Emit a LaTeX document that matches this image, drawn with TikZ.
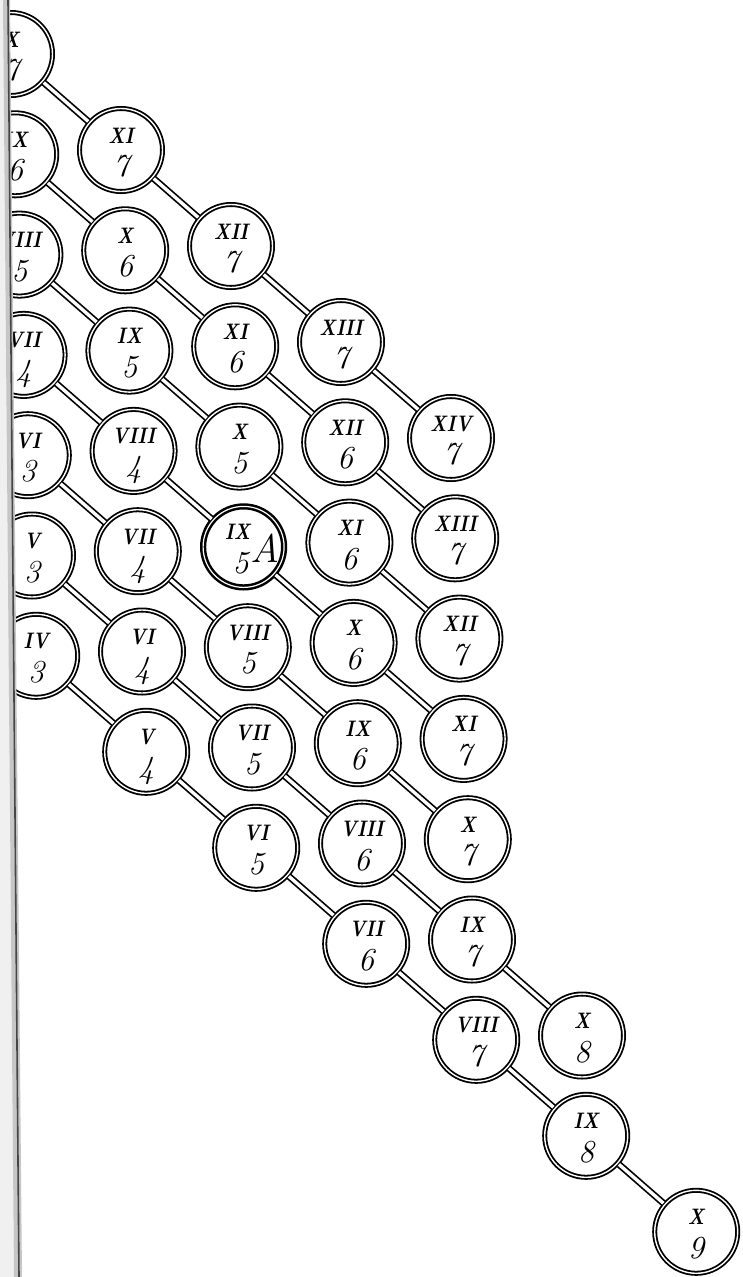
\documentclass[tikz,border=0pt]{standalone}
\usetikzlibrary{calc}
\tikzset{
  cellc/.style={circle, draw=black, double=white, line width=1.8pt, double distance=1.4pt,
    minimum size=83pt, inner sep=0pt, outer sep=0pt, fill=white},
  cellthick/.style={cellc, line width=2.5pt, double distance=1.2pt, minimum size=81pt},
  link/.style={draw=black, double=white, line width=1.7pt, double distance=3.4pt,
    shorten <=2pt, shorten >=2pt},
}
\newcommand{\rmn}[1]{\scalebox{0.95}[1.12]{\fontsize{20}{20}\selectfont\bfseries\itshape #1}}
\newcommand{\dgt}[1]{{\fontsize{32}{32}\selectfont\itshape #1}}
\newcommand{\cellt}[2]{\makebox[0pt]{\raisebox{7pt}[0pt][0pt]{\rmn{#1}}}\makebox[0pt]{\raisebox{-26.5pt}[0pt][0pt]{\dgt{#2}}}}
\newcommand{\cellA}{\makebox[0pt]{\hspace*{-12pt}\raisebox{7pt}[0pt][0pt]{\rmn{IX}}}\makebox[0pt]{\hspace*{-6pt}\raisebox{-26.5pt}[0pt][0pt]{\dgt{5}}}\makebox[0pt]{\hspace*{42pt}\raisebox{-16pt}[0pt][0pt]{{\fontsize{40}{40}\selectfont\itshape A}}}}
\begin{document}
\begin{tikzpicture}[x=1pt,y=-1pt]
\useasboundingbox (0,0) rectangle (742,1277);
\fill[white] (0,0) rectangle (742,1277);
\clip (0,0) rectangle (742,1277);
% cells: column/row/roman/digit
\foreach \c/\r/\R/\D in {
  0/0/X/7, 1/0/XI/7, 2/0/XII/7, 3/0/XIII/7, 4/0/XIV/7,
  0/1/IX/6, 1/1/X/6, 2/1/XI/6, 3/1/XII/6, 4/1/XIII/7,
  0/2/VIII/5, 1/2/IX/5, 2/2/X/5, 3/2/XI/6, 4/2/XII/7,
  0/3/VII/4, 1/3/VIII/4, 3/3/X/6, 4/3/XI/7,
  0/4/VI/3, 1/4/VII/4, 2/4/VIII/5, 3/4/IX/6, 4/4/X/7,
  0/5/V/3, 1/5/VI/4, 2/5/VII/5, 3/5/VIII/6, 4/5/IX/7, 5/5/X/8,
  0/6/IV/3, 1/6/V/4, 2/6/VI/5, 3/6/VII/6, 4/6/VIII/7, 5/6/IX/8, 6/6/X/9}
{
  \node[cellc] (n\c\r) at ({11+110*\c+4.2*\r},{54+96*\c+100.3*\r}) {\cellt{\R}{\D}};
}
\node[cellthick] (n23) at ({11+110*2+4.2*3},{54+96*2+100.3*3}) {\cellA};
% connectors along each row
\foreach \r/\m in {0/4,1/4,2/4,3/4,4/4,5/5,6/6}{
  \foreach \c in {1,...,\m}{
    \pgfmathtruncatemacro\p{\c-1}
    \draw[link] (n\p\r) -- (n\c\r);
  }
}
% binding edge of the page
\fill[gray!12] (0,0) -- (5,0) -- (14,1277) -- (0,1277) -- cycle;
\fill[gray!45] (3,0) -- (10,0) -- (22,1277) -- (14,1277) -- cycle;
\draw[gray!55!black, line width=1.6pt] (8,0) -- (19,1277);
\end{tikzpicture}
\end{document}
